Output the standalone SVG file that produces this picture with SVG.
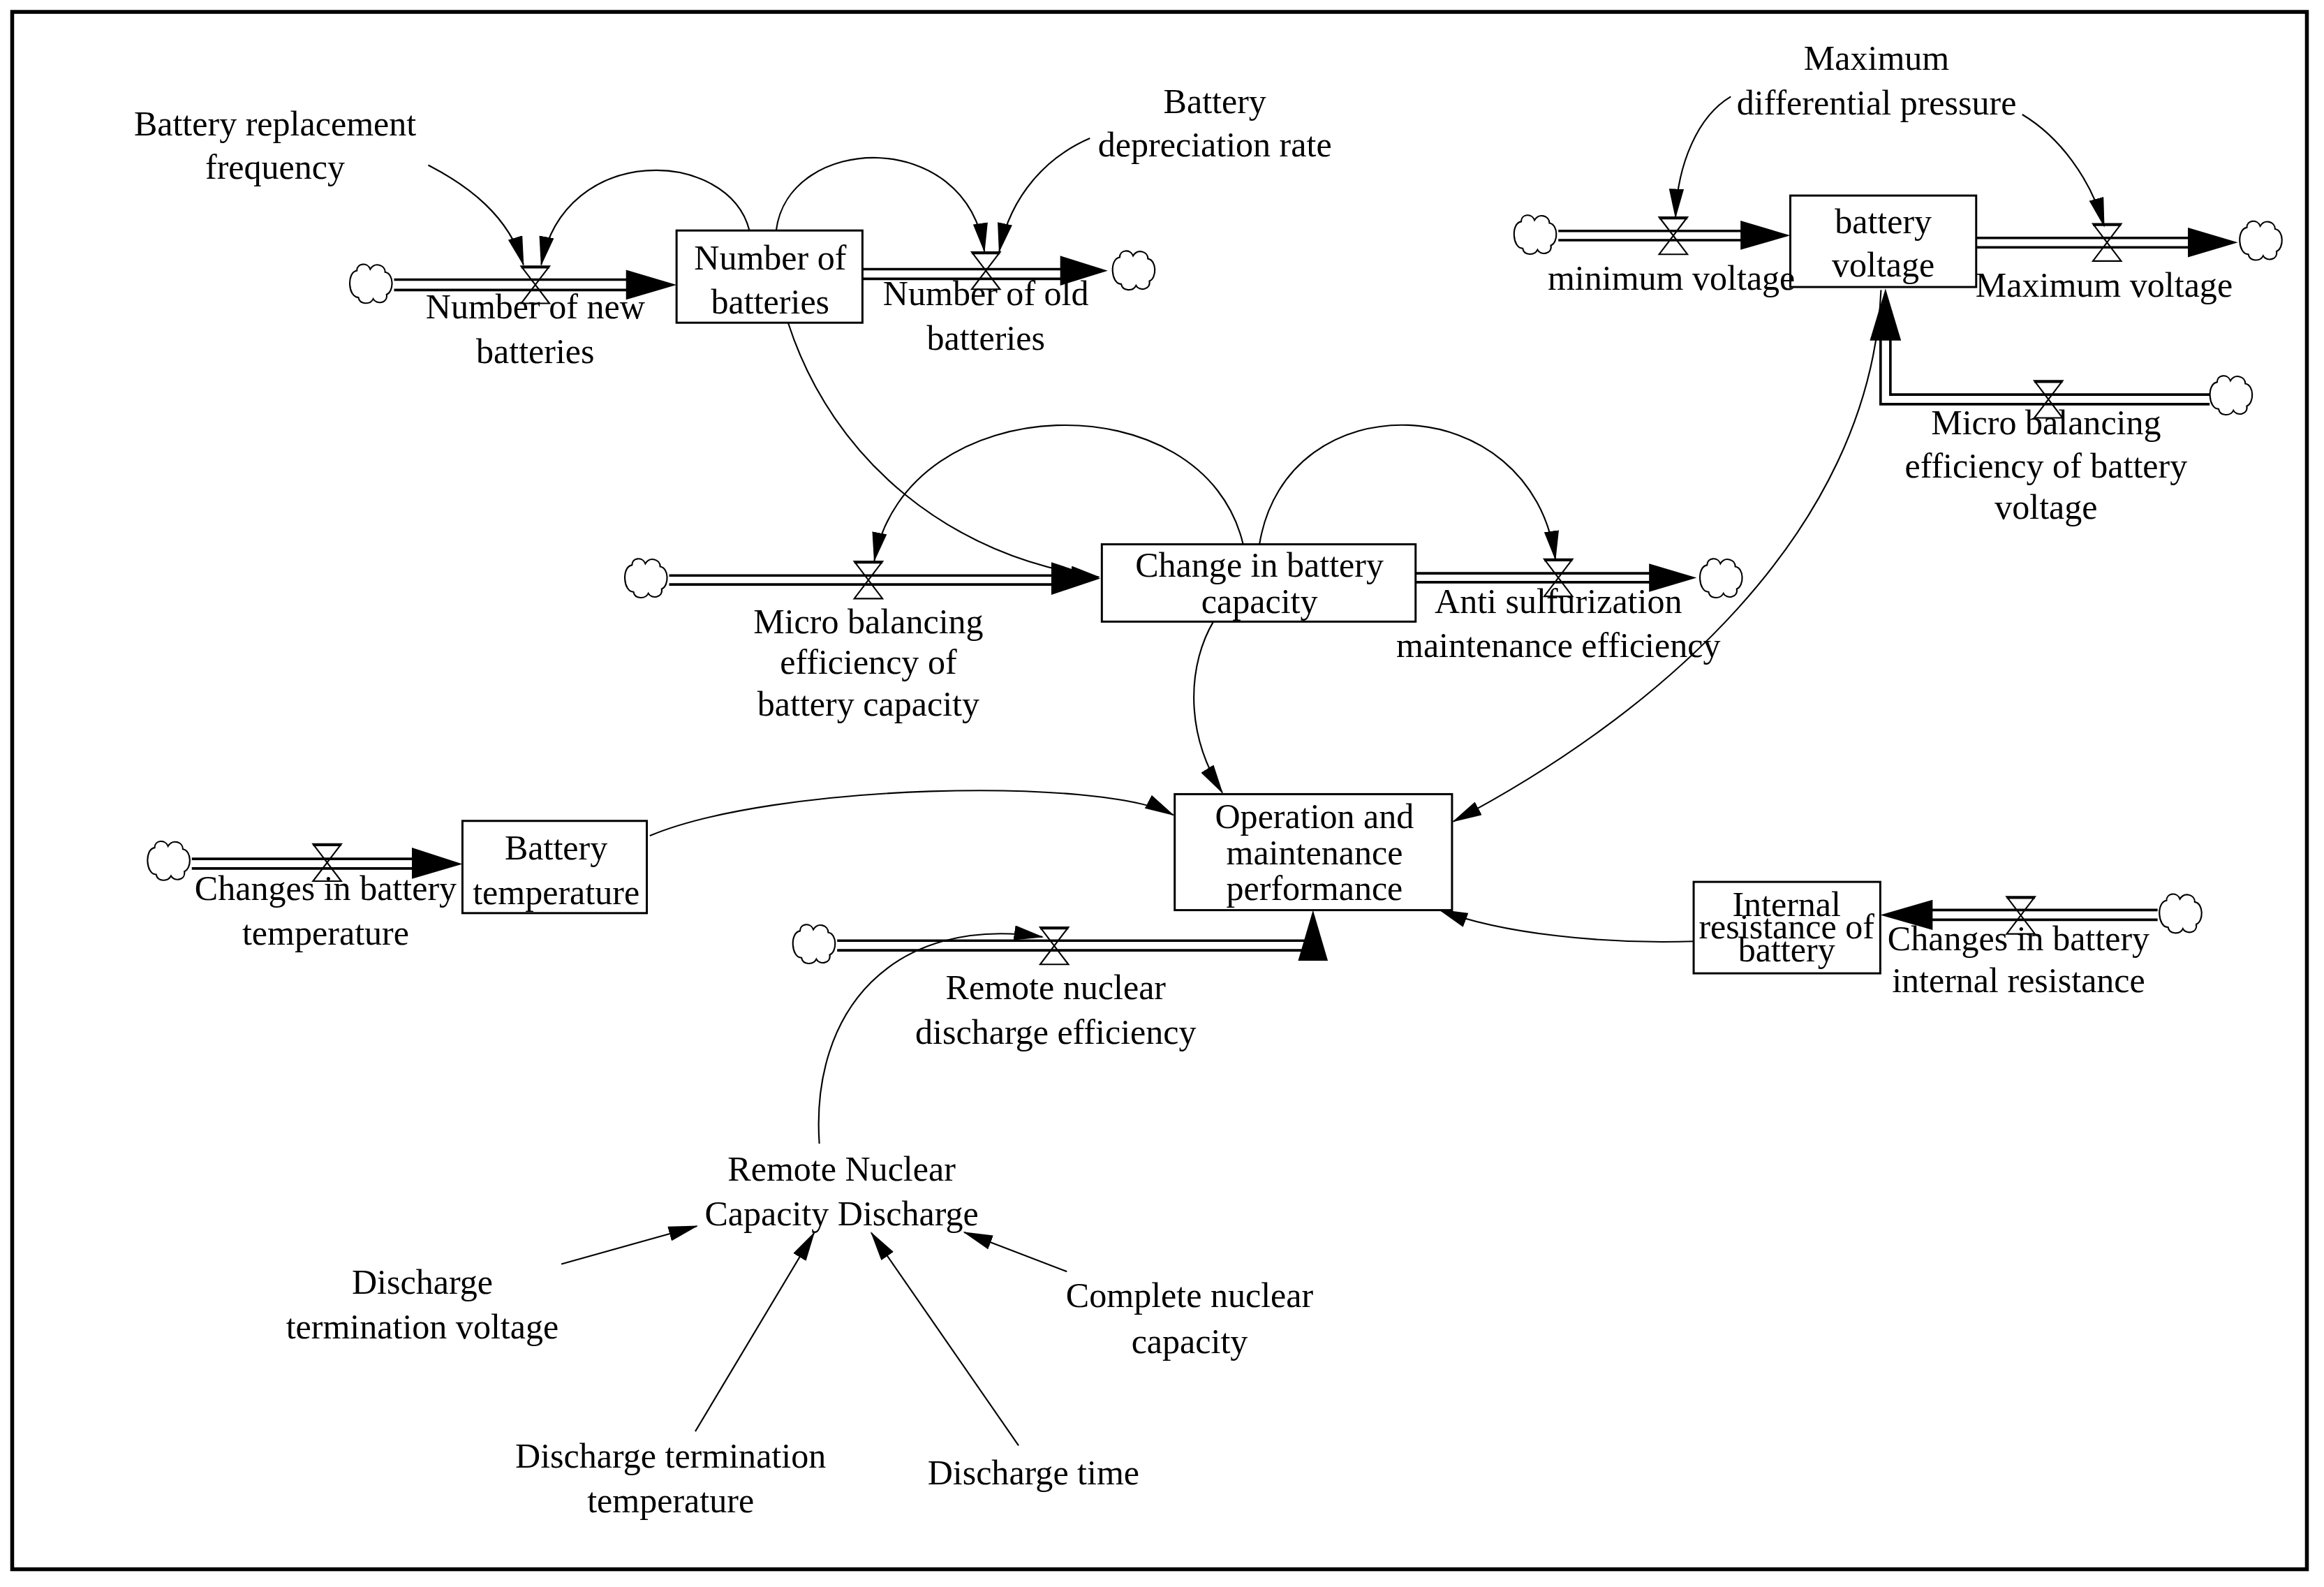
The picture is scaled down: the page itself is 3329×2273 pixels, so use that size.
<svg xmlns="http://www.w3.org/2000/svg" width="3329" height="2273" viewBox="0 0 3329 2273">
<defs>
<style>
text{font-family:"Liberation Serif","Times New Roman",serif;font-size:23.5px;fill:#000;text-anchor:middle}
.box{fill:#fff;stroke:#000;stroke-width:1.4}
.link{fill:none;stroke:#000;stroke-width:1}
.pipe{fill:none;stroke:#000;stroke-width:1.7}
.head{fill:#000;stroke:none}
.valve{fill:none;stroke:#000;stroke-width:1}
.cloud{fill:#fff;stroke:#000;stroke-width:1}
</style>
<marker id="arr" viewBox="0 0 20 10" markerWidth="20" markerHeight="10" refX="19" refY="5" orient="auto" markerUnits="userSpaceOnUse"><path d="M0,0 L20,5 L0,10 Z" fill="#000"/></marker>
<path id="cloudp" d="M-9,-9 C-9,-14 -2,-15 0,-10 C3,-15 10,-13 10,-8 C16,-7 16,5 11,7 C12,13 4,14 2,10 C0,14 -7,14 -8,9 C-15,9 -16,-8 -9,-9 Z"/>
<path id="valvep" d="M-9.5,-12.5 H9.5 L-9.5,12.5 H9.5 Z M-9.5,-11.5 H9.5"/>
</defs>
<rect x="0" y="0" width="3329" height="2273" fill="#fff"/>
<g transform="scale(2.13)">
<rect x="8.2" y="8" width="1543.2" height="1047.2" fill="none" stroke="#000" stroke-width="2.6"/>

<g id="connectors">
<!-- flow pipes -->
<path class="pipe" d="M265,188 H425 M265,195 H425"/>
<polygon class="head" points="421,181.5 455,191.5 421,201.5"/>
<path class="pipe" d="M580,181 H716 M580,187.5 H716"/>
<polygon class="head" points="713,172 745,182 713,192"/>
<path class="pipe" d="M1048,155.3 H1174 M1048,161.5 H1174"/>
<polygon class="head" points="1170.5,148.4 1204,158.3 1170.5,168"/>
<path class="pipe" d="M1329,160 H1475 M1329,166.3 H1475"/>
<polygon class="head" points="1471.4,153 1505,163 1471.4,173"/>
<path class="pipe" d="M1486,265.3 H1271.3 V226 M1486,271.8 H1264.7 V226"/>
<polygon class="head" points="1257.5,229 1268,194 1278.5,229"/>
<path class="pipe" d="M450,387 H710 M450,393 H710"/>
<polygon class="head" points="707,378 740,389 707,400"/>
<path class="pipe" d="M952,385.5 H1112 M952,391.5 H1112"/>
<polygon class="head" points="1109,379 1141,388.5 1109,398"/>
<path class="pipe" d="M129,577.5 H280 M129,584 H280"/>
<polygon class="head" points="277,570 311,581 277,591"/>
<path class="pipe" d="M563,632.5 H880 M563,639 H880"/>
<polygon class="head" points="873,646 883,612 893,646"/>
<path class="pipe" d="M1451,611.9 H1296 M1451,618.5 H1296"/>
<polygon class="head" points="1299.7,605 1264.5,615.2 1299.7,625.4"/>
<!-- information links -->
<path class="link" marker-end="url(#arr)" d="M288,111 C315,125 342,145 352,178"/>
<path class="link" marker-end="url(#arr)" d="M504,155 C490,100 380,95 364,178"/>
<path class="link" marker-end="url(#arr)" d="M522,155 C530,90 650,85 662,169"/>
<path class="link" marker-end="url(#arr)" d="M733,93 C705,105 680,130 672,169"/>
<path class="link" marker-end="url(#arr)" d="M530,217 C560,310 640,375 739,388"/>
<path class="link" marker-end="url(#arr)" d="M836,366 C810,255 610,260 588,377"/>
<path class="link" marker-end="url(#arr)" d="M847,366 C865,255 1030,260 1046,376"/>
<path class="link" marker-end="url(#arr)" d="M816,418 C800,445 795,490 822,533"/>
<path class="link" marker-end="url(#arr)" d="M1265,195 C1258,360 1110,483 977.4,552.4"/>
<path class="link" marker-end="url(#arr)" d="M1139,633 C1080,635 1010,628 968,611.8"/>
<path class="link" marker-end="url(#arr)" d="M437,562 C520,527 740,522 789,548"/>
<path class="link" marker-end="url(#arr)" d="M551,769 C545,680 600,615 701,630"/>
<path class="link" marker-end="url(#arr)" d="M1164,65 C1142,78 1128,110 1126.8,146"/>
<path class="link" marker-end="url(#arr)" d="M1360,77 C1385,92 1406,120 1415,152"/>
<path class="link" marker-end="url(#arr)" d="M377.5,850 L468.6,824.5"/>
<path class="link" marker-end="url(#arr)" d="M467.6,962.5 L547.5,829"/>
<path class="link" marker-end="url(#arr)" d="M685,972 L586,829"/>
<path class="link" marker-end="url(#arr)" d="M717.5,855 L648.5,828.6"/>
</g>

<g id="clouds">
<use href="#cloudp" x="249" y="191" class="cloud"/>
<use href="#cloudp" x="762" y="182" class="cloud"/>
<use href="#cloudp" x="1032" y="158" class="cloud"/>
<use href="#cloudp" x="1520" y="162" class="cloud"/>
<use href="#cloudp" x="1500" y="266" class="cloud"/>
<use href="#cloudp" x="434" y="389" class="cloud"/>
<use href="#cloudp" x="1157" y="389" class="cloud"/>
<use href="#cloudp" x="113" y="579" class="cloud"/>
<use href="#cloudp" x="547" y="635" class="cloud"/>
<use href="#cloudp" x="1466" y="614.5" class="cloud"/>
</g>

<g id="battery-replacement-frequency"><text><tspan x="185" y="91">Battery replacement</tspan><tspan x="185" y="120">frequency</tspan></text></g>

<g id="number-of-new-batteries"><use href="#valvep" x="360" y="191.5" class="valve"/><text><tspan x="360" y="214">Number of new</tspan><tspan x="360" y="244">batteries</tspan></text></g>

<g id="number-of-batteries"><rect class="box" x="455" y="155" width="125" height="62"/><text><tspan x="518" y="181">Number of</tspan><tspan x="518" y="211">batteries</tspan></text></g>

<g id="number-of-old-batteries"><use href="#valvep" x="663" y="182" class="valve"/><text><tspan x="663" y="205">Number of old</tspan><tspan x="663" y="235">batteries</tspan></text></g>

<g id="battery-depreciation-rate"><text><tspan x="817" y="76">Battery</tspan><tspan x="817" y="105">depreciation rate</tspan></text></g>

<g id="maximum-differential-pressure"><text><tspan x="1262" y="47">Maximum</tspan><tspan x="1262" y="77">differential pressure</tspan></text></g>

<g id="battery-voltage"><rect class="box" x="1204" y="131.5" width="125" height="61.5"/><text><tspan x="1266.5" y="157">battery</tspan><tspan x="1266.5" y="186">voltage</tspan></text></g>

<g id="minimum-voltage"><use href="#valvep" x="1125.3" y="158.5" class="valve"/><text x="1124" y="195">minimum voltage</text></g>

<g id="maximum-voltage"><use href="#valvep" x="1417" y="163" class="valve"/><text x="1415" y="199.5">Maximum voltage</text></g>

<g id="micro-balancing-voltage"><use href="#valvep" x="1377.6" y="268.5" class="valve"/><text><tspan x="1376" y="292">Micro balancing</tspan><tspan x="1376" y="321">efficiency of battery</tspan><tspan x="1376" y="349">voltage</tspan></text></g>

<g id="change-in-battery-capacity"><rect class="box" x="741" y="366" width="211" height="52"/><text><tspan x="847" y="388">Change in battery</tspan><tspan x="847" y="412">capacity</tspan></text></g>

<g id="micro-balancing-capacity"><use href="#valvep" x="584" y="390" class="valve"/><text><tspan x="584" y="426">Micro balancing</tspan><tspan x="584" y="453">efficiency of</tspan><tspan x="584" y="481">battery capacity</tspan></text></g>

<g id="anti-sulfurization"><use href="#valvep" x="1048" y="388.5" class="valve"/><text><tspan x="1048" y="412">Anti sulfurization</tspan><tspan x="1048" y="442">maintenance efficiency</tspan></text></g>

<g id="battery-temperature"><rect class="box" x="311" y="552" width="124" height="62"/><text><tspan x="374" y="578">Battery</tspan><tspan x="374" y="608">temperature</tspan></text></g>

<g id="changes-in-battery-temperature"><use href="#valvep" x="220" y="580" class="valve"/><text><tspan x="219" y="605">Changes in battery</tspan><tspan x="219" y="635">temperature</tspan></text></g>

<g id="operation-and-maintenance-performance"><rect class="box" x="790" y="534" width="186.5" height="78"/><text><tspan x="884" y="557">Operation and</tspan><tspan x="884" y="581">maintenance</tspan><tspan x="884" y="605">performance</tspan></text></g>

<g id="internal-resistance-of-battery"><rect class="box" x="1139" y="593" width="125.5" height="61.5"/><text><tspan x="1201.5" y="615.8">Internal</tspan><tspan x="1201.5" y="631">resistance of</tspan><tspan x="1201.5" y="646.3">battery</tspan></text></g>

<g id="changes-in-battery-internal-resistance"><use href="#valvep" x="1359" y="615.5" class="valve"/><text><tspan x="1357.5" y="639">Changes in battery</tspan><tspan x="1357.5" y="667">internal resistance</tspan></text></g>

<g id="remote-nuclear-discharge-efficiency"><use href="#valvep" x="709" y="636" class="valve"/><text><tspan x="710" y="672">Remote nuclear</tspan><tspan x="710" y="702">discharge efficiency</tspan></text></g>

<g id="remote-nuclear-capacity-discharge"><text><tspan x="566" y="794">Remote Nuclear</tspan><tspan x="566" y="824">Capacity Discharge</tspan></text></g>

<g id="discharge-termination-voltage"><text><tspan x="284" y="870">Discharge</tspan><tspan x="284" y="900">termination voltage</tspan></text></g>

<g id="complete-nuclear-capacity"><text><tspan x="800" y="879">Complete nuclear</tspan><tspan x="800" y="910">capacity</tspan></text></g>

<g id="discharge-termination-temperature"><text><tspan x="451" y="987">Discharge termination</tspan><tspan x="451" y="1017">temperature</tspan></text></g>

<g id="discharge-time"><text x="695" y="998">Discharge time</text></g>
</g>
</svg>
